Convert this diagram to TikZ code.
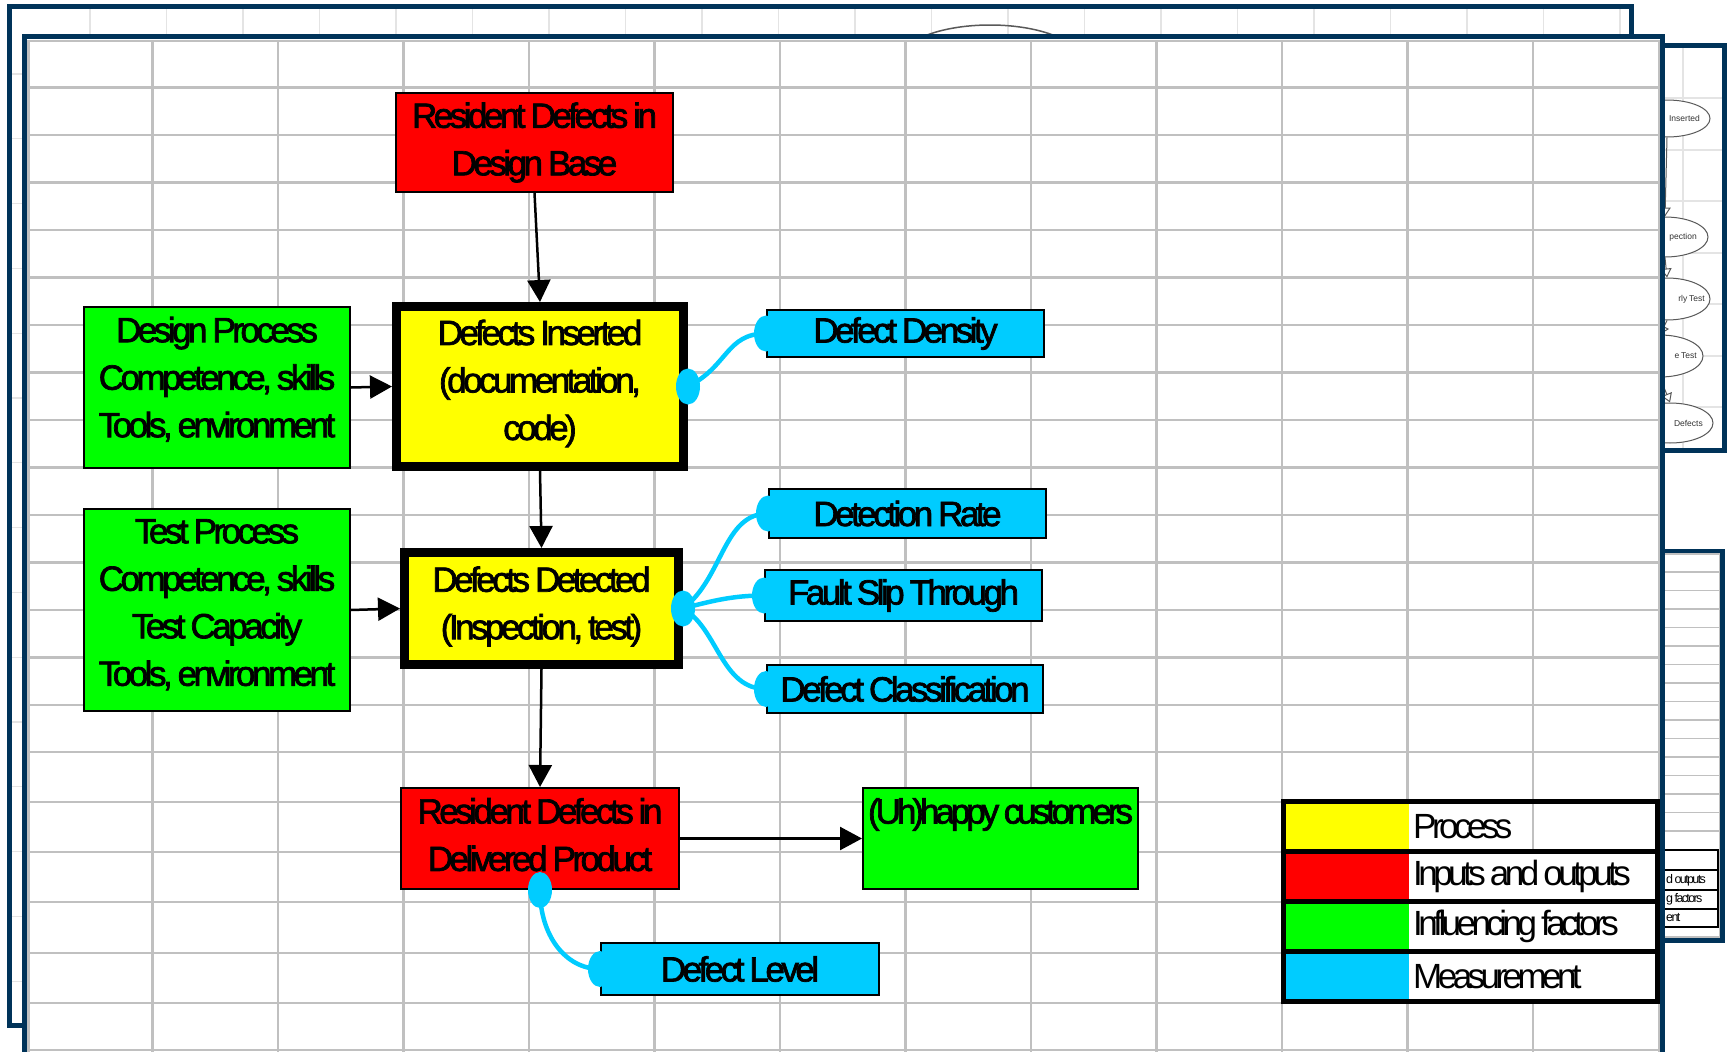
\documentclass[tikz,border=0pt]{standalone}
\usepackage{fontspec}
\setmainfont{Liberation Sans}[LetterSpace=-10,WordSpace=0.8]
\newfontfamily\boxfamily{Liberation Sans}[LetterSpace=-10,WordSpace=0.8,FakeBold=2]
\usepackage{tikz}
\usetikzlibrary{positioning,arrows.meta,shapes.geometric}

\definecolor{sheetnavy}{RGB}{0,51,89}
\definecolor{procyellow}{RGB}{255,255,0}
\definecolor{iored}{RGB}{255,0,0}
\definecolor{inflgreen}{RGB}{0,255,0}
\definecolor{meascyan}{RGB}{0,204,255}
\definecolor{gridgray}{RGB}{192,192,192}
\definecolor{faintgray}{RGB}{228,228,228}

\begin{document}
\begin{tikzpicture}[x=1pt, y=-1pt,
    box/.style={draw, line width=2pt, inner sep=0pt, align=center, font=\boxfamily\fontsize{35}{47.5}\selectfont},
    io/.style={box, fill=iored},
    infl/.style={box, fill=inflgreen},
    proc/.style={box, fill=procyellow, line width=9pt},
    meas/.style={box, fill=meascyan},
    arr/.style={-{Triangle[length=22pt, width=23pt]}, line width=2.5pt},
    link/.style={meascyan, line width=4.5pt, line cap=round},
    blob/.style={ellipse, fill=meascyan, minimum width=24pt, minimum height=36pt, inner sep=0pt},
    sheet/.style={draw=sheetnavy, line width=5pt, fill=white},
    gridline/.style={gridgray, line width=2.2pt},
    faint/.style={faintgray, line width=1.2pt},
    legrow/.style={draw, line width=5pt, minimum width=374pt, minimum height=50pt, inner sep=0pt},
    legsw/.style={minimum width=123pt, minimum height=45pt, inner sep=0pt},
    legtxt/.style={inner sep=0pt, anchor=west, font=\fontsize{35}{40}\selectfont\addfontfeature{LetterSpace=-13}},
    oval/.style={ellipse, draw=black!65, line width=1pt, minimum width=86pt, inner sep=0pt},
    ovaltxt/.style={inner sep=0pt, anchor=east, text=black!80, font=\fontsize{8.5}{10}\selectfont\addfontfeature{LetterSpace=0}},
    minitxt/.style={inner sep=0pt, anchor=west, font=\fontsize{12.5}{14}\selectfont\addfontfeature{LetterSpace=-13}}
]
\useasboundingbox (0,0) rectangle (1730,1052);
\fill[white] (0,0) rectangle (1730,1052);

% sheet behind, top left
\draw[sheet] (9.5,6.5) rectangle (1631,1025.5);
\foreach \i in {0,...,20} {
    \pgfmathsetmacro{\x}{90+76.5*\i}
    \draw[faint] (\x,9) -- (\x,1023);
}
\foreach \i in {0,...,14} {
    \pgfmathsetmacro{\y}{74+64.8*\i}
    \draw[faint] (12,\y) -- (1628,\y);
}
\draw[black!65, line width=1.5pt] (990,62) ellipse [x radius=92, y radius=37];

% sheet behind, top right
\draw[sheet] (1450,45) rectangle (1724.5,450.5);
\foreach \y in {98,150,201,253,304,356,407}
    \draw[faint] (1452,\y) -- (1722,\y);
\draw[faint] (1683,48) -- (1683,448);
\foreach \cy/\ry/\rx/\tx/\txt [count=\i] in {118.5/37/1710/1700/Inserted, 237/40/1708/1697/pection,
        299/42/1710/1705/rly Test, 356/42/1703/1697/e Test, 423/40/1713/1703/Defects} {
    \node[oval, minimum height=\ry, fill=white] (ov\i) at (\rx-43,\cy) {};
    \node[ovaltxt] (ovt\i) at (\tx,\cy) {\txt};
}
\foreach \a/\b in {1/2,2/3,3/4,4/5}
    \draw[black!65, line width=1pt, -{Triangle[open, length=9pt, width=11pt]}] (ov\a.south) -- (ov\b.north);

% sheet behind, bottom right
\draw[sheet] (1450,551) rectangle (1722.5,940.5);
\draw[gridgray, line width=1.5pt] (1452,554) rectangle (1719.5,937);
\foreach \i in {0,...,14} {
    \pgfmathsetmacro{\y}{572+18.5*\i}
    \draw[gridgray, line width=1.2pt] (1452,\y) -- (1719,\y);
}
\foreach \ya/\yb in {850/870,870/890,890/909,909/927}
    \draw[line width=2pt, fill=white] (1560,\ya) rectangle (1718,\yb);
\node[minitxt] (mini2) at (1666,880) {d outputs};
\node[minitxt] (mini3) at (1666,899.5) {g factors};
\node[minitxt] (mini4) at (1666,918) {ent};

% main sheet
\fill[white] (24.5,36) rectangle (1662.5,1052);
\draw[gridline] (28.5,1052) -- (28.5,41) -- (1659.5,41) -- (1659.5,1052);
\foreach \i in {0,...,11} {
    \pgfmathsetmacro{\x}{152.5+125.5*\i}
    \draw[gridline] (\x,41) -- (\x,1052);
}
\foreach \y in {87.5,135,182.5,230,277.5,325,372.5,420,467.5,515,562.5,610,657.5,705,752,802,852,902,953,1003,1050}
    \draw[gridline] (28.5,\y) -- (1659.5,\y);
\draw[sheetnavy, line width=5pt] (24.5,1052) -- (24.5,36) -- (1662.5,36) -- (1662.5,1052);

% process chain
\node[io, minimum width=277, minimum height=99] (basedef) at (534.5,142.5) {Resident Defects in\\Design Base};
\node[proc, minimum width=287, minimum height=160, text depth=13.4pt] (inserted) at (540,386.5) {Defects Inserted\\(documentation,\\code)};
\node[proc, minimum width=274, minimum height=112, text depth=11.4pt] (detected) at (541.5,608.5) {Defects Detected\\(Inspection, test)};
\node[io, minimum width=278, minimum height=101, text depth=8pt] (resdef) at (540,838.5) {Resident Defects in\\Delivered Product};

% influencing factors
\node[infl, minimum width=266, minimum height=161, text depth=21pt] (designproc) at (217,387.5) {Design Process\\Competence, skills\\Tools, environment};
\node[infl, minimum width=266, minimum height=202, text depth=15pt] (testproc) at (217,610) {Test Process\\Competence, skills\\Test Capacity\\Tools, environment};
\node[infl, minimum width=275, minimum height=101,
    label={[anchor=north, yshift=-11pt, inner sep=0pt, font=\boxfamily\fontsize{35}{40}\selectfont\addfontfeature{LetterSpace=-11.5}]north:(Uh)happy customers}] (customers) at (1000.5,838.5) {};

% measurements
\node[meas, minimum width=277, minimum height=47] (density) at (905.5,333.5) {Defect Density};
\node[meas, minimum width=277, minimum height=49] (detrate) at (907.5,513.5) {Detection Rate};
\node[meas, minimum width=277, minimum height=51] (fst) at (903.5,595.5) {Fault Slip Through};
\node[meas, minimum width=276, minimum height=48] (classif) at (905,689) {Defect Classification};
\node[meas, minimum width=278, minimum height=52] (level) at (740,969) {Defect Level};

% arrows
\draw[arr] (basedef.south) -- (inserted.north);
\draw[arr] (inserted.south) -- (detected.north);
\draw[arr] (detected.south) -- (resdef.north);
\draw[arr] (designproc.east) -- (inserted.west);
\draw[arr] (testproc.east) -- (detected.west);
\draw[arr] (resdef.east) -- (customers.west);

% measurement links
\draw[link] (inserted.east) .. controls +(40,-20) and +(-40,0) .. (density.west);
\draw[link] (detected.east) .. controls +(40,-30) and +(-45,0) .. (detrate.west);
\draw[link] (detected.east) .. controls +(30,-8) and +(-30,0) .. (fst.west);
\draw[link] (detected.east) .. controls +(35,20) and +(-45,0) .. (classif.west);
\draw[link] (resdef.south) .. controls +(0,45) and +(-35,0) .. (level.west);
\node[blob] (jins) at (inserted.east) {};
\node[blob] (jdet) at (detected.east) {};
\node[blob] (jres) at (resdef.south) {};
\foreach \m in {density,detrate,fst,classif,level}
    \node[blob] (j\m) at (\m.west) {};

% legend
\foreach \col/\txt/\bg [count=\i] in {procyellow/Process/none, iored/Inputs and outputs/white,
        inflgreen/Influencing factors/white, meascyan/Measurement/white} {
    \pgfmathsetmacro{\y}{776.5+50*\i}
    \node[legrow, fill=\bg] (lr\i) at (1470.5,\y) {};
    \node[legsw, fill=\col] (ls\i) at (1347.5,\y) {};
    \node[legtxt] (lt\i) at (1413,\y) {\txt};
}

\end{tikzpicture}
\end{document}
